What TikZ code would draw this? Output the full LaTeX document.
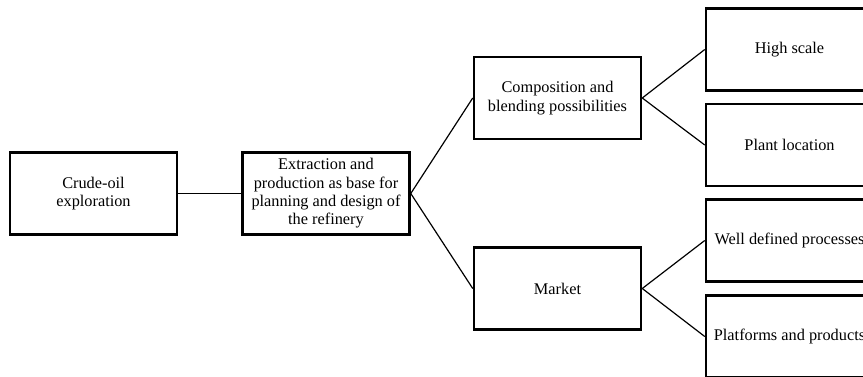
\documentclass[tikz,border=0pt]{standalone}
\usepackage{fontspec}
\setmainfont{Liberation Serif}
\usepackage{tikz}
\tikzset{rfnode/.style={rectangle, draw, line width=1.8pt, minimum width=4.175cm, minimum height=2.05cm, align=center, font=\fontsize{11.6}{13}\selectfont},
  rfline/.style={line width=0.85pt}}
\newcommand{\rfbox}[3] {\node at (#1) (#2) [rfnode] {#3};}
\newcommand{\rflink}[2] {\draw [rfline] (#1.east) -- (#2.west);}

\begin{document}
\begin{tikzpicture}
\useasboundingbox (0,0) rectangle (21.575,9.4);
\clip (0,0) rectangle (21.575,9.4);
\rfbox {2.3375,4.5625} {crude} {Crude-oil\\exploration};
\rfbox {8.15,4.5625} {extraction} {Extraction and\\production as base for\\planning and design of\\the refinery};
\rfbox {13.9375,6.95} {blending} {Composition and\\blending possibilities};
\rfbox {13.9375,2.1875} {market} {Market};
\rfbox {19.7375,8.1625} {scale} {High scale};
\rfbox {19.7375,5.775} {location} {Plant location};
\rfbox {19.7375,3.3875} {processes} {Well defined processes};
\rfbox {19.7375,0.9875} {products} {Platforms and products};

\rflink{crude}{extraction};
\rflink{extraction}{blending};
\rflink{extraction}{market};
\rflink{blending}{scale};
\rflink{blending}{location};
\rflink{market}{processes};
\rflink{market}{products};
\end{tikzpicture}
\end{document}
